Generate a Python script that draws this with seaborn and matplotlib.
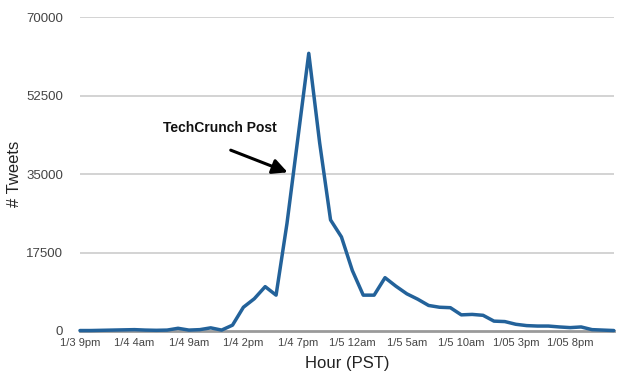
import numpy as np
import pandas as pd
import seaborn as sns
import matplotlib.pyplot as plt

# hourly tweet counts
tweets = [100, 100, 150, 200, 250, 300, 200, 150, 200, 600,
          200, 300, 700, 200, 1300, 5300, 7200, 9900, 8000, 24000,
          43000, 62000, 42000, 24800, 21000, 13500, 8000, 8000, 11900, 10000,
          8300, 7100, 5700, 5300, 5200, 3600, 3700, 3500, 2200, 2100,
          1500, 1200, 1100, 1100, 900, 750, 900, 300, 200, 100]
hour_labels = ['1/3 9pm', '1/4 4am', '1/4 9am', '1/4 2pm', '1/4 7pm',
               '1/5 12am', '1/5 5am', '1/5 10am', '1/05 3pm', '1/05 8pm']
y_ticks = [0, 17500, 35000, 52500, 70000]

df = pd.DataFrame({'hour': np.arange(len(tweets)), 'tweets': tweets})

sns.set_style('white')
plt.rcParams['font.family'] = ['Liberation Sans', 'DejaVu Sans']

fig = plt.figure(figsize=(6.2, 3.8), dpi=100)
ax = fig.add_axes([0.129, 0.129, 0.861, 0.825])

for t in y_ticks[1:]:
    ax.axhline(t, color='#c8c8c8', lw=1.1, zorder=0)

sns.lineplot(data=df, x='hour', y='tweets', ax=ax, color='#23629a', lw=2.5,
             clip_on=False, zorder=3)

ax.set_xlim(0, len(tweets) - 1)
ax.set_ylim(0, 70000)
ax.set_yticks(y_ticks)
ax.set_yticklabels([str(t) for t in y_ticks], fontsize=9.5, color='#444444')
ax.set_xticks(np.arange(len(hour_labels)) * 5)
ax.set_xticklabels(hour_labels, fontsize=8, color='#444444')
ax.tick_params(axis='y', length=0, pad=12)
ax.tick_params(axis='x', length=0, pad=5)

for s in ['left', 'right', 'top']:
    ax.spines[s].set_visible(False)
ax.spines['bottom'].set_color('#9a9a9a')
ax.spines['bottom'].set_linewidth(2)

ax.set_xlabel('Hour (PST)', fontsize=12, color='#222222', labelpad=6)
ax.set_ylabel('# Tweets', fontsize=12, color='#222222')
ax.yaxis.set_label_coords(-0.108, 0.5)

ax.annotate('', xy=(19.3, 35200), xytext=(13.6, 40600),
            arrowprops=dict(arrowstyle='-|>,head_length=0.9,head_width=0.45',
                            color='black', lw=2.2))
ax.text(7.6, 45400, 'TechCrunch Post', fontsize=10, fontweight='bold',
        color='#111111', va='center', ha='left')

fig.savefig('out.png', dpi=100)
